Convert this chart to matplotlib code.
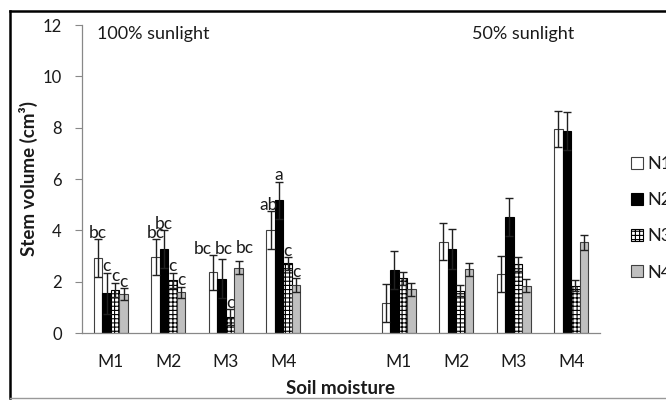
import matplotlib
matplotlib.use("Agg")
import matplotlib.pyplot as plt
import numpy as np
from matplotlib.lines import Line2D

plt.rcParams['font.family'] = ['Lato', 'DejaVu Sans']
plt.rcParams['hatch.linewidth'] = 0.8

categories = ["M1", "M2", "M3", "M4", "", "M1", "M2", "M3", "M4"]
series = ["N1", "N2", "N3", "N4"]
# values per series, over the 9 category slots (slot 4 is an empty gap)
n1 = [2.91, 2.95, 2.36, 4.01, np.nan, 1.16, 3.55, 2.30, 7.94]
n2 = [1.55, 3.27, 2.12, 5.18, np.nan, 2.45, 3.27, 4.51, 7.87]
n3 = [1.68, 2.06, 0.62, 2.71, np.nan, 2.13, 1.65, 2.68, 1.85]
n4 = [1.51, 1.58, 2.55, 1.87, np.nan, 1.71, 2.48, 1.84, 3.53]
e1 = [0.74, 0.70, 0.68, 0.74, np.nan, 0.74, 0.72, 0.71, 0.71]
e2 = [0.80, 0.74, 0.76, 0.72, np.nan, 0.74, 0.77, 0.74, 0.74]
e3 = [0.28, 0.29, 0.30, 0.24, np.nan, 0.26, 0.22, 0.27, 0.20]
e4 = [0.23, 0.22, 0.25, 0.26, np.nan, 0.25, 0.26, 0.25, 0.29]
letters1 = ["bc", "bc", "bc", "ab"]
letters2 = ["c", "bc", "bc", "a"]
letters3 = ["c", "c", "c", "c"]
letters4 = ["c", "c", "bc", "c"]

values = [n1, n2, n3, n4]
errors = [e1, e2, e3, e4]
letters = [letters1, letters2, letters3, letters4]
# nudges (points) of the crowded letter labels
nudge_x = [[0, 0, -7.2, -1.5], [0, 0, 1.4, 0], [0, 0, 0, 0], [0, 0, 4.3, 0]]
nudge_y = [[0, 0, 0, 0], [0, 0, 3.0, 0], [0, 0, 0, 0], [0, 0, 4.5, 0]]

fig = plt.figure(figsize=(6.66, 4.01), dpi=100)
ax = fig.add_axes([82/666, 68/401, 518/666, 308/401])

x = np.arange(len(categories))
w = 0.148
styles = [
    dict(color="white", edgecolor="#404040", hatch=None),
    dict(color="black", edgecolor="black", hatch=None),
    dict(color="white", edgecolor="black", hatch="++++"),
    dict(color="#bfbfbf", edgecolor="#404040", hatch=None),
]
txtc = "#1a1a1a"
handles = []
for i, (vals, errs, st) in enumerate(zip(values, errors, styles)):
    xi = x + (i - 1.5) * w
    b = ax.bar(xi, vals, width=w, color=st["color"], edgecolor=st["edgecolor"],
               hatch=st["hatch"], linewidth=0.8, label=series[i], zorder=2)
    handles.append(b)
    ax.errorbar(xi, vals, yerr=errs, fmt="none", ecolor="#202020",
                elinewidth=1.0, capsize=2.8, capthick=1.0, zorder=3)
    for j, lab in enumerate(letters[i]):
        ax.annotate(lab, (xi[j], vals[j] + errs[j]),
                    xytext=(nudge_x[i][j], 1 + nudge_y[i][j]),
                    textcoords="offset points", ha="center", va="baseline",
                    fontsize=12.5, color=txtc, zorder=4)

ax.set_xlim(-0.5, 8.5)
ax.set_ylim(0, 12)
ax.set_yticks(np.arange(0, 13, 2))
ax.set_xticks(x)
ax.set_xticklabels(categories)
ax.tick_params(axis="x", length=0, pad=15, labelsize=12.5, colors=txtc)
ax.tick_params(axis="y", length=5, width=0.8, color="#888888", pad=9.5,
               labelsize=12, labelcolor=txtc)
for s in ["top", "right"]:
    ax.spines[s].set_visible(False)
for s in ["left", "bottom"]:
    ax.spines[s].set_color("#888888")
    ax.spines[s].set_linewidth(0.9)

fig.text(28.5/666, 1 - 178.5/401, "Stem volume (cm³)", rotation=90,
         ha="center", va="center", fontsize=13.5, fontweight="bold", color=txtc)
fig.text(340/666, 1 - 389/401, "Soil moisture", ha="center", va="center",
         fontsize=13.5, fontweight="bold", color=txtc)
fig.text(97/666, 1 - 34/401, "100% sunlight", ha="left", va="center",
         fontsize=13, color=txtc)
fig.text(472/666, 1 - 34/401, "50% sunlight", ha="left", va="center",
         fontsize=13, color=txtc)

leg = fig.legend(handles=handles, labels=series, loc="upper left",
                 bbox_to_anchor=(631/666, 1 - 156/401), frameon=False,
                 handlelength=0.65, handleheight=0.65, handletextpad=0.25,
                 labelspacing=1.12, fontsize=13, borderaxespad=0, borderpad=0)
for t in leg.get_texts():
    t.set_color(txtc)

# outer frame (left/top black, bottom gray)
fig.add_artist(Line2D([10/666, 10/666], [1 - 398/401, 1 - 11/401],
                      transform=fig.transFigure, color="black", lw=1.8))
fig.add_artist(Line2D([10/666, 1.0], [1 - 11/401, 1 - 11/401],
                      transform=fig.transFigure, color="black", lw=1.8))
fig.add_artist(Line2D([10/666, 1.0], [1 - 398/401, 1 - 398/401],
                      transform=fig.transFigure, color="#999999", lw=1.0))

fig.savefig("out.png", dpi=100)
